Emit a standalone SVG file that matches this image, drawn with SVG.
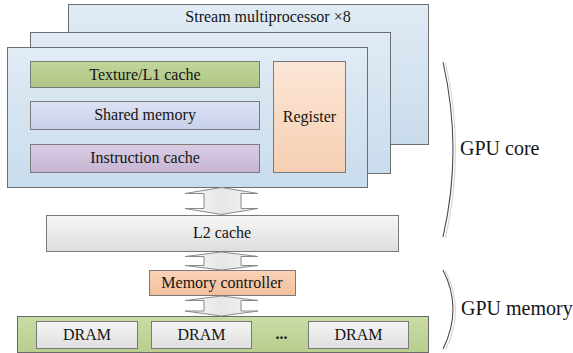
<svg xmlns="http://www.w3.org/2000/svg" width="573" height="353" viewBox="0 0 573 353" font-family="'Liberation Serif', 'DejaVu Serif', serif">
  <defs>
    <linearGradient id="gPanel" x1="0" y1="0" x2="0" y2="1">
      <stop offset="0" stop-color="#e0ebf5"/>
      <stop offset="1" stop-color="#c9dcec"/>
    </linearGradient>
    <linearGradient id="gGreen" x1="0" y1="0" x2="0" y2="1">
      <stop offset="0" stop-color="#c2d69a"/>
      <stop offset="1" stop-color="#aec483"/>
    </linearGradient>
    <linearGradient id="gBlue" x1="0" y1="0" x2="0" y2="1">
      <stop offset="0" stop-color="#dde2f4"/>
      <stop offset="1" stop-color="#c8d0ea"/>
    </linearGradient>
    <linearGradient id="gPurple" x1="0" y1="0" x2="0" y2="1">
      <stop offset="0" stop-color="#d9cde4"/>
      <stop offset="1" stop-color="#c6b5d4"/>
    </linearGradient>
    <linearGradient id="gPeach" x1="0" y1="0" x2="0" y2="1">
      <stop offset="0" stop-color="#fce6d6"/>
      <stop offset="1" stop-color="#f5cfb3"/>
    </linearGradient>
    <linearGradient id="gOrange" x1="0" y1="0" x2="0" y2="1">
      <stop offset="0" stop-color="#f9d3b8"/>
      <stop offset="1" stop-color="#f3bf9c"/>
    </linearGradient>
    <linearGradient id="gGray" x1="0" y1="0" x2="0" y2="1">
      <stop offset="0" stop-color="#f6f6f6"/>
      <stop offset="1" stop-color="#dedede"/>
    </linearGradient>
    <linearGradient id="gArrow" x1="0" y1="0" x2="1" y2="0">
      <stop offset="0" stop-color="#fafafa"/>
      <stop offset="0.5" stop-color="#e6e6e6"/>
      <stop offset="1" stop-color="#f4f4f4"/>
    </linearGradient>
    <linearGradient id="gBar" x1="0" y1="0" x2="0" y2="1">
      <stop offset="0" stop-color="#cadca6"/>
      <stop offset="1" stop-color="#b8cd8e"/>
    </linearGradient>
  </defs>
  <style>
    text { fill: #151515; }
    .lbl { font-size: 16px; text-anchor: middle; }
    .big { font-size: 20px; }
    .panel { fill: url(#gPanel); stroke: #6e6e6e; stroke-width: 1; }
    .box { stroke: #7a7a7a; stroke-width: 1; }
    .arrow { fill: url(#gArrow); stroke: #8a8a8a; stroke-width: 1; }
    .brace { fill: none; stroke: #4a4a4a; stroke-width: 1.1; }
    .brace2 { fill: none; stroke: #d4d4d4; stroke-width: 1.1; }
  </style>

  <!-- stacked stream multiprocessor panels -->
  <g id="sm-back">
    <rect class="panel" x="68.5" y="4.5" width="360" height="140"/>
    <text x="268" y="22" class="lbl">Stream multiprocessor ×8</text>
  </g>
  <g id="sm-middle">
    <rect class="panel" x="30.5" y="32.5" width="360" height="141"/>
  </g>
  <g id="sm-front">
    <rect class="panel" x="7.5" y="47.5" width="360" height="140"/>
  </g>

  <g id="texture-l1">
    <rect class="box" x="30.5" y="61.5" width="229" height="26" fill="url(#gGreen)"/>
    <text x="145" y="79.5" class="lbl">Texture/L1 cache</text>
  </g>
  <g id="shared-memory">
    <rect class="box" x="30.5" y="101.5" width="229" height="28" fill="url(#gBlue)"/>
    <text x="145" y="120" class="lbl">Shared memory</text>
  </g>
  <g id="instruction-cache">
    <rect class="box" x="30.5" y="144.5" width="229" height="28" fill="url(#gPurple)"/>
    <text x="145" y="163" class="lbl">Instruction cache</text>
  </g>
  <g id="register">
    <rect class="box" x="273.5" y="61.5" width="72" height="111" fill="url(#gPeach)"/>
    <text x="309.5" y="121.5" class="lbl">Register</text>
  </g>

  <g id="l2-cache">
    <rect class="box" x="46.5" y="215.5" width="352" height="36" fill="url(#gGray)"/>
    <text x="222" y="238" class="lbl">L2 cache</text>
  </g>

  <g id="memory-controller">
    <rect class="box" x="149.5" y="270.5" width="146" height="25" fill="url(#gOrange)"/>
    <text x="222" y="288" class="lbl">Memory controller</text>
  </g>

  <g id="dram-bank">
    <rect x="17.5" y="316.5" width="411" height="36" fill="url(#gBar)" stroke="#6a6a6a" stroke-width="1"/>
    <rect class="box" x="36.5" y="321.5" width="101" height="27" fill="url(#gGray)"/>
    <text x="87" y="340" class="lbl">DRAM</text>
    <rect class="box" x="151.5" y="321.5" width="100" height="27" fill="url(#gGray)"/>
    <text x="201.5" y="340" class="lbl">DRAM</text>
    <text x="281.5" y="339" class="lbl" font-weight="bold" font-size="13px">...</text>
    <rect class="box" x="308.5" y="321.5" width="100" height="27" fill="url(#gGray)"/>
    <text x="358.5" y="340" class="lbl">DRAM</text>
  </g>

  <!-- double-headed block arrows between levels -->
  <g id="connectors">
    <path class="arrow" d="M221.5,187.5 L258,193.5 L241,193.5 L241,208.5 L258,208.5 L221.5,214.5 L185,208.5 L204,208.5 L204,193.5 L185,193.5 Z"/>
    <path class="arrow" d="M221.5,252 L258,256.5 L241,256.5 L241,265.5 L258,265.5 L221.5,270 L185,265.5 L204,265.5 L204,256.5 L185,256.5 Z"/>
    <path class="arrow" d="M221.5,296 L258,300.5 L241,300.5 L241,311 L258,311 L221.5,316 L185,311 L204,311 L204,300.5 L185,300.5 Z"/>
  </g>

  <!-- braces grouping core and memory -->
  <g id="gpu-core">
    <path class="brace2" d="M445.5,63 Q465.5,150 445.5,238"/>
    <path class="brace" d="M443,62 Q463,150 443,237"/>
    <text x="460" y="155" class="big">GPU core</text>
  </g>
  <g id="gpu-memory">
    <path class="brace2" d="M445.5,271 Q465.5,310 445.5,350"/>
    <path class="brace" d="M443,270 Q463,309 443,349"/>
    <text x="461" y="315" class="big">GPU memory</text>
  </g>
</svg>
